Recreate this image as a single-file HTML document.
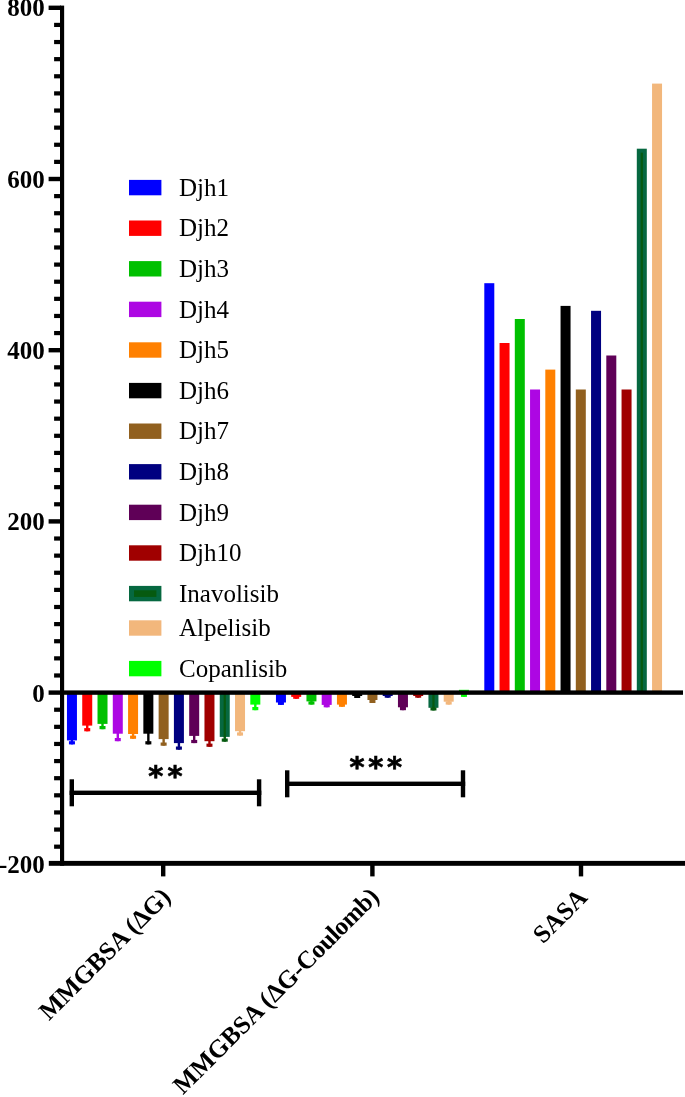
<!DOCTYPE html>
<html lang="en"><head><meta charset="utf-8"><title>Chart</title>
<style>html,body{margin:0;padding:0;background:#fff}body{width:685px;height:1097px;overflow:hidden}svg{display:block}text{font-family:"Liberation Serif","DejaVu Serif",serif;fill:#000}.b{font-weight:bold}</style></head><body>
<svg width="685" height="1097" viewBox="0 0 685 1097">
<rect width="685" height="1097" fill="#fff"/>
<rect x="129.0" y="179.9" width="32.4" height="15.4" fill="#0000ff"/>
<text x="179.0" y="195.7" font-size="25">Djh1</text>
<rect x="129.0" y="220.5" width="32.4" height="15.4" fill="#ff0000"/>
<text x="179.0" y="236.3" font-size="25">Djh2</text>
<rect x="129.0" y="261.1" width="32.4" height="15.4" fill="#00c000"/>
<text x="179.0" y="276.9" font-size="25">Djh3</text>
<rect x="129.0" y="301.7" width="32.4" height="15.4" fill="#ad07e3"/>
<text x="179.0" y="317.5" font-size="25">Djh4</text>
<rect x="129.0" y="342.3" width="32.4" height="15.4" fill="#ff8000"/>
<text x="179.0" y="358.1" font-size="25">Djh5</text>
<rect x="129.0" y="382.9" width="32.4" height="15.4" fill="#000000"/>
<text x="179.0" y="398.7" font-size="25">Djh6</text>
<rect x="129.0" y="423.5" width="32.4" height="15.4" fill="#91601f"/>
<text x="179.0" y="439.3" font-size="25">Djh7</text>
<rect x="129.0" y="464.1" width="32.4" height="15.4" fill="#000080"/>
<text x="179.0" y="479.9" font-size="25">Djh8</text>
<rect x="129.0" y="504.7" width="32.4" height="15.4" fill="#5f0057"/>
<text x="179.0" y="520.5" font-size="25">Djh9</text>
<rect x="129.0" y="545.3" width="32.4" height="15.4" fill="#a00000"/>
<text x="179.0" y="561.1" font-size="25">Djh10</text>
<rect x="129.0" y="585.9" width="32.4" height="15.4" fill="#066840"/>
<rect x="134.0" y="590.3" width="22.4" height="6.6" fill="#065a10"/>
<text x="179.0" y="601.7" font-size="25">Inavolisib</text>
<rect x="129.0" y="620.3" width="32.4" height="15.4" fill="#f2b77c"/>
<text x="179.0" y="636.1" font-size="25">Alpelisib</text>
<rect x="129.0" y="660.9" width="32.4" height="15.4" fill="#00ff00"/>
<text x="179.0" y="676.7" font-size="25">Copanlisib</text>
<rect x="66.95" y="692.60" width="10.00" height="47.80" fill="#0000ff"/>
<rect x="70.75" y="739.40" width="2.4" height="5.00" fill="#0000ff"/>
<rect x="68.95" y="741.20" width="6" height="3.2" fill="#0000ff"/>
<rect x="275.95" y="692.60" width="10.00" height="9.90" fill="#0000ff"/>
<rect x="279.75" y="701.50" width="2.4" height="3.40" fill="#0000ff"/>
<rect x="277.95" y="701.70" width="6" height="3.2" fill="#0000ff"/>
<rect x="484.30" y="283.20" width="10.00" height="409.40" fill="#0000ff"/>
<rect x="82.23" y="692.60" width="10.00" height="33.00" fill="#ff0000"/>
<rect x="86.03" y="724.60" width="2.4" height="6.70" fill="#ff0000"/>
<rect x="84.23" y="728.10" width="6" height="3.2" fill="#ff0000"/>
<rect x="291.20" y="692.60" width="10.00" height="4.30" fill="#ff0000"/>
<rect x="295.00" y="695.90" width="2.4" height="2.90" fill="#ff0000"/>
<rect x="293.20" y="695.60" width="6" height="3.2" fill="#ff0000"/>
<rect x="499.55" y="343.00" width="10.00" height="349.60" fill="#ff0000"/>
<rect x="97.51" y="692.60" width="10.00" height="31.30" fill="#00c000"/>
<rect x="101.31" y="722.90" width="2.4" height="6.30" fill="#00c000"/>
<rect x="99.51" y="726.00" width="6" height="3.2" fill="#00c000"/>
<rect x="306.45" y="692.60" width="10.00" height="8.80" fill="#00c000"/>
<rect x="310.25" y="700.40" width="2.4" height="4.20" fill="#00c000"/>
<rect x="308.45" y="701.40" width="6" height="3.2" fill="#00c000"/>
<rect x="514.80" y="319.00" width="10.00" height="373.60" fill="#00c000"/>
<rect x="112.79" y="692.60" width="10.00" height="41.10" fill="#ad07e3"/>
<rect x="116.59" y="732.70" width="2.4" height="8.50" fill="#ad07e3"/>
<rect x="114.79" y="738.00" width="6" height="3.2" fill="#ad07e3"/>
<rect x="321.70" y="692.60" width="10.00" height="12.30" fill="#ad07e3"/>
<rect x="325.50" y="703.90" width="2.4" height="3.40" fill="#ad07e3"/>
<rect x="323.70" y="704.10" width="6" height="3.2" fill="#ad07e3"/>
<rect x="530.05" y="389.50" width="10.00" height="303.10" fill="#ad07e3"/>
<rect x="128.07" y="692.60" width="10.00" height="41.40" fill="#ff8000"/>
<rect x="131.87" y="733.00" width="2.4" height="5.80" fill="#ff8000"/>
<rect x="130.07" y="735.60" width="6" height="3.2" fill="#ff8000"/>
<rect x="336.95" y="692.60" width="10.00" height="12.00" fill="#ff8000"/>
<rect x="340.75" y="703.60" width="2.4" height="3.20" fill="#ff8000"/>
<rect x="338.95" y="703.60" width="6" height="3.2" fill="#ff8000"/>
<rect x="545.30" y="369.60" width="10.00" height="323.00" fill="#ff8000"/>
<rect x="143.35" y="692.60" width="10.00" height="41.10" fill="#000000"/>
<rect x="147.15" y="732.70" width="2.4" height="11.70" fill="#000000"/>
<rect x="145.35" y="741.20" width="6" height="3.2" fill="#000000"/>
<rect x="352.20" y="692.60" width="10.00" height="3.40" fill="#000000"/>
<rect x="356.00" y="695.00" width="2.4" height="3.00" fill="#000000"/>
<rect x="354.20" y="694.80" width="6" height="3.2" fill="#000000"/>
<rect x="560.55" y="305.90" width="10.00" height="386.70" fill="#000000"/>
<rect x="158.63" y="692.60" width="10.00" height="46.50" fill="#91601f"/>
<rect x="162.43" y="738.10" width="2.4" height="7.60" fill="#91601f"/>
<rect x="160.63" y="742.50" width="6" height="3.2" fill="#91601f"/>
<rect x="367.45" y="692.60" width="10.00" height="7.40" fill="#91601f"/>
<rect x="371.25" y="699.00" width="2.4" height="4.00" fill="#91601f"/>
<rect x="369.45" y="699.80" width="6" height="3.2" fill="#91601f"/>
<rect x="575.80" y="389.50" width="10.00" height="303.10" fill="#91601f"/>
<rect x="173.91" y="692.60" width="10.00" height="50.50" fill="#000080"/>
<rect x="177.71" y="742.10" width="2.4" height="7.60" fill="#000080"/>
<rect x="175.91" y="746.50" width="6" height="3.2" fill="#000080"/>
<rect x="382.70" y="692.60" width="10.00" height="3.40" fill="#000080"/>
<rect x="386.50" y="695.00" width="2.4" height="2.70" fill="#000080"/>
<rect x="384.70" y="694.50" width="6" height="3.2" fill="#000080"/>
<rect x="591.05" y="310.80" width="10.00" height="381.80" fill="#000080"/>
<rect x="189.19" y="692.60" width="10.00" height="43.30" fill="#5f0057"/>
<rect x="192.99" y="734.90" width="2.4" height="8.20" fill="#5f0057"/>
<rect x="191.19" y="739.90" width="6" height="3.2" fill="#5f0057"/>
<rect x="397.95" y="692.60" width="10.00" height="14.70" fill="#5f0057"/>
<rect x="401.75" y="706.30" width="2.4" height="3.90" fill="#5f0057"/>
<rect x="399.95" y="707.00" width="6" height="3.2" fill="#5f0057"/>
<rect x="606.30" y="355.50" width="10.00" height="337.10" fill="#5f0057"/>
<rect x="204.47" y="692.60" width="10.00" height="48.60" fill="#a00000"/>
<rect x="208.27" y="740.20" width="2.4" height="6.60" fill="#a00000"/>
<rect x="206.47" y="743.60" width="6" height="3.2" fill="#a00000"/>
<rect x="413.20" y="692.60" width="10.00" height="3.40" fill="#a00000"/>
<rect x="417.00" y="695.00" width="2.4" height="2.70" fill="#a00000"/>
<rect x="415.20" y="694.50" width="6" height="3.2" fill="#a00000"/>
<rect x="621.55" y="389.50" width="10.00" height="303.10" fill="#a00000"/>
<rect x="219.75" y="692.60" width="10.00" height="44.30" fill="#066840"/>
<rect x="223.55" y="735.90" width="2.4" height="5.80" fill="#065a10"/>
<rect x="221.75" y="738.50" width="6" height="3.2" fill="#065a10"/>
<rect x="223.65" y="692.60" width="2.2" height="44.30" fill="#065a10"/>
<rect x="428.45" y="692.60" width="10.00" height="15.20" fill="#066840"/>
<rect x="432.25" y="706.80" width="2.4" height="3.70" fill="#065a10"/>
<rect x="430.45" y="707.30" width="6" height="3.2" fill="#065a10"/>
<rect x="432.35" y="692.60" width="2.2" height="15.20" fill="#065a10"/>
<rect x="636.80" y="148.70" width="10.00" height="543.90" fill="#066840"/>
<rect x="640.70" y="152.70" width="2.2" height="539.90" fill="#065a10"/>
<rect x="235.03" y="692.60" width="10.00" height="38.60" fill="#f2b77c"/>
<rect x="238.83" y="730.20" width="2.4" height="5.40" fill="#f2b77c"/>
<rect x="237.03" y="732.40" width="6" height="3.2" fill="#f2b77c"/>
<rect x="443.70" y="692.60" width="10.00" height="9.10" fill="#f2b77c"/>
<rect x="447.50" y="700.70" width="2.4" height="3.90" fill="#f2b77c"/>
<rect x="445.70" y="701.40" width="6" height="3.2" fill="#f2b77c"/>
<rect x="652.05" y="83.60" width="10.00" height="609.00" fill="#f2b77c"/>
<rect x="250.31" y="692.60" width="10.00" height="12.00" fill="#00ff00"/>
<rect x="254.11" y="703.60" width="2.4" height="6.60" fill="#00ff00"/>
<rect x="252.31" y="707.00" width="6" height="3.2" fill="#00ff00"/>
<rect x="458.95" y="689.80" width="10.00" height="2.80" fill="#00ff00"/>
<rect x="462.75" y="692.60" width="2.4" height="4.30" fill="#00ff00"/>
<rect x="460.95" y="693.70" width="6" height="3.2" fill="#00ff00"/>
<g fill="#000">
<rect x="60.00" y="5.60" width="4.15" height="860.10"/>
<rect x="60.00" y="690.40" width="623.00" height="4.40"/>
<rect x="48.80" y="860.90" width="636.20" height="4.90"/>
<rect x="48.60" y="5.60" width="12.40" height="4.40"/>
<rect x="54.10" y="22.82" width="6.90" height="4.20"/>
<rect x="54.10" y="39.94" width="6.90" height="4.20"/>
<rect x="54.10" y="57.06" width="6.90" height="4.20"/>
<rect x="54.10" y="74.18" width="6.90" height="4.20"/>
<rect x="54.10" y="91.30" width="6.90" height="4.20"/>
<rect x="54.10" y="108.42" width="6.90" height="4.20"/>
<rect x="54.10" y="125.54" width="6.90" height="4.20"/>
<rect x="54.10" y="142.66" width="6.90" height="4.20"/>
<rect x="54.10" y="159.78" width="6.90" height="4.20"/>
<rect x="48.60" y="176.80" width="12.40" height="4.40"/>
<rect x="54.10" y="194.02" width="6.90" height="4.20"/>
<rect x="54.10" y="211.14" width="6.90" height="4.20"/>
<rect x="54.10" y="228.26" width="6.90" height="4.20"/>
<rect x="54.10" y="245.38" width="6.90" height="4.20"/>
<rect x="54.10" y="262.50" width="6.90" height="4.20"/>
<rect x="54.10" y="279.62" width="6.90" height="4.20"/>
<rect x="54.10" y="296.74" width="6.90" height="4.20"/>
<rect x="54.10" y="313.86" width="6.90" height="4.20"/>
<rect x="54.10" y="330.98" width="6.90" height="4.20"/>
<rect x="48.60" y="348.00" width="12.40" height="4.40"/>
<rect x="54.10" y="365.22" width="6.90" height="4.20"/>
<rect x="54.10" y="382.34" width="6.90" height="4.20"/>
<rect x="54.10" y="399.46" width="6.90" height="4.20"/>
<rect x="54.10" y="416.58" width="6.90" height="4.20"/>
<rect x="54.10" y="433.70" width="6.90" height="4.20"/>
<rect x="54.10" y="450.82" width="6.90" height="4.20"/>
<rect x="54.10" y="467.94" width="6.90" height="4.20"/>
<rect x="54.10" y="485.06" width="6.90" height="4.20"/>
<rect x="54.10" y="502.18" width="6.90" height="4.20"/>
<rect x="48.60" y="519.20" width="12.40" height="4.40"/>
<rect x="54.10" y="536.42" width="6.90" height="4.20"/>
<rect x="54.10" y="553.54" width="6.90" height="4.20"/>
<rect x="54.10" y="570.66" width="6.90" height="4.20"/>
<rect x="54.10" y="587.78" width="6.90" height="4.20"/>
<rect x="54.10" y="604.90" width="6.90" height="4.20"/>
<rect x="54.10" y="622.02" width="6.90" height="4.20"/>
<rect x="54.10" y="639.14" width="6.90" height="4.20"/>
<rect x="54.10" y="656.26" width="6.90" height="4.20"/>
<rect x="54.10" y="673.38" width="6.90" height="4.20"/>
<rect x="48.60" y="690.40" width="12.40" height="4.40"/>
<rect x="54.10" y="707.62" width="6.90" height="4.20"/>
<rect x="54.10" y="724.74" width="6.90" height="4.20"/>
<rect x="54.10" y="741.86" width="6.90" height="4.20"/>
<rect x="54.10" y="758.98" width="6.90" height="4.20"/>
<rect x="54.10" y="776.10" width="6.90" height="4.20"/>
<rect x="54.10" y="793.22" width="6.90" height="4.20"/>
<rect x="54.10" y="810.34" width="6.90" height="4.20"/>
<rect x="54.10" y="827.46" width="6.90" height="4.20"/>
<rect x="54.10" y="844.58" width="6.90" height="4.20"/>
<rect x="161.00" y="863.00" width="4.4" height="13.40"/>
<rect x="370.20" y="863.00" width="4.4" height="13.40"/>
<rect x="578.80" y="863.00" width="4.4" height="13.40"/>
<rect x="69.60" y="790.60" width="191.70" height="4.4"/>
<rect x="69.60" y="779.30" width="4.4" height="27"/>
<rect x="256.90" y="779.30" width="4.4" height="27"/>
<rect x="285.00" y="781.60" width="180.20" height="4.4"/>
<rect x="285.00" y="770.30" width="4.4" height="27"/>
<rect x="460.80" y="770.30" width="4.4" height="27"/>
</g>
<text class="b" x="44.8" y="16.4" font-size="25" text-anchor="end">800</text>
<text class="b" x="44.8" y="187.8" font-size="25" text-anchor="end">600</text>
<text class="b" x="44.8" y="359.0" font-size="25" text-anchor="end">400</text>
<text class="b" x="44.8" y="530.2" font-size="25" text-anchor="end">200</text>
<text class="b" x="44.8" y="701.9" font-size="25" text-anchor="end">0</text>
<text class="b" x="44.8" y="872.6" font-size="25" text-anchor="end">-200</text>
<text x="148.2" y="786.2" font-size="28.8" letter-spacing="4.15" stroke="#000" stroke-width="0.7" style="font-family:'DejaVu Sans',sans-serif;font-weight:bold">**</text>
<text x="349.5" y="777.3" font-size="28.8" letter-spacing="3.75" stroke="#000" stroke-width="0.7" style="font-family:'DejaVu Sans',sans-serif;font-weight:bold">***</text>
<text class="b" font-size="25.3" text-anchor="end" transform="translate(171.9,898.3) rotate(-45)">MMGBSA (ΔG)</text>
<text class="b" font-size="25.3" text-anchor="end" transform="translate(380.4,898.0) rotate(-45)">MMGBSA (ΔG<tspan letter-spacing="-0.4">-Coulomb</tspan>)</text>
<text class="b" font-size="25.3" text-anchor="end" transform="translate(588.8,898.8) rotate(-45)">SASA</text>
</svg></body></html>
